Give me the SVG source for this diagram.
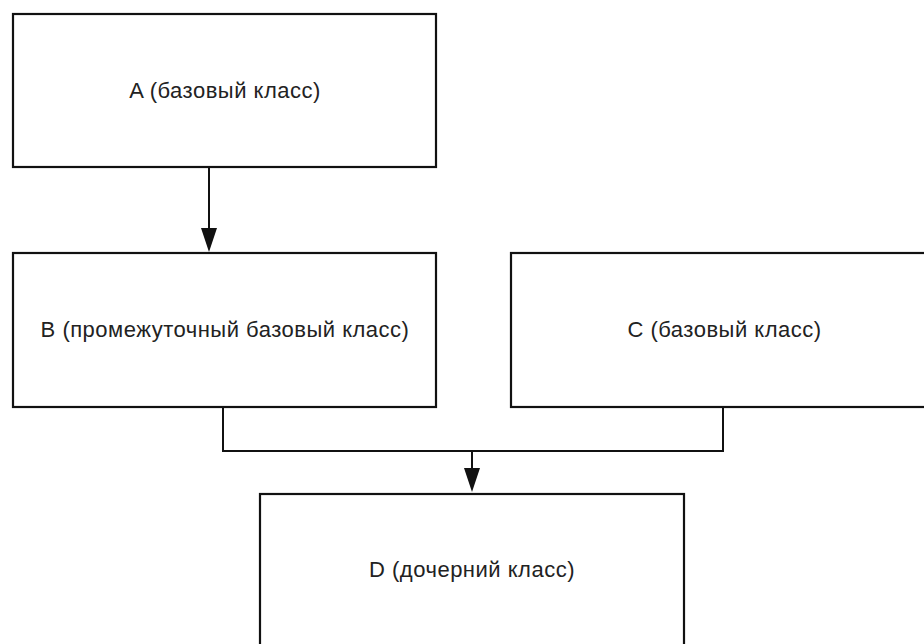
<svg xmlns="http://www.w3.org/2000/svg" width="924" height="644" viewBox="0 0 924 644">
<style>
.box{fill:#ffffff;stroke:#111111;stroke-width:2.2}
.lbl{font-family:"Liberation Sans",Arial,sans-serif;font-size:22px;letter-spacing:0.5px;fill:#222222;text-anchor:middle}
.edge{fill:none;stroke:#111111;stroke-width:2}
.head{fill:#111111}
</style>
<rect width="924" height="644" fill="#ffffff"/>
<g id="connectors">
<path class="edge" d="M209,167 V229"/>
<path class="head" d="M201,228 L217,228 L209,252 Z"/>
<path class="edge" d="M223,408 V451 H723 V408"/>
<path class="edge" d="M472,451 V469"/>
<path class="head" d="M464,468 L480,468 L472,492 Z"/>
</g>
<g id="A">
<rect class="box" x="13" y="14" width="423" height="153"/>
<text class="lbl" x="225" y="97.5">A (базовый класс)</text>
</g>
<g id="B">
<rect class="box" x="13" y="253" width="423" height="154"/>
<text class="lbl" x="225" y="337">B (промежуточный базовый класс)</text>
</g>
<g id="C">
<rect class="box" x="511" y="253" width="430" height="154"/>
<text class="lbl" x="724.5" y="337">C (базовый класс)</text>
</g>
<g id="D">
<rect class="box" x="260" y="494" width="424" height="160"/>
<text class="lbl" x="472" y="577">D (дочерний класс)</text>
</g>
</svg>
